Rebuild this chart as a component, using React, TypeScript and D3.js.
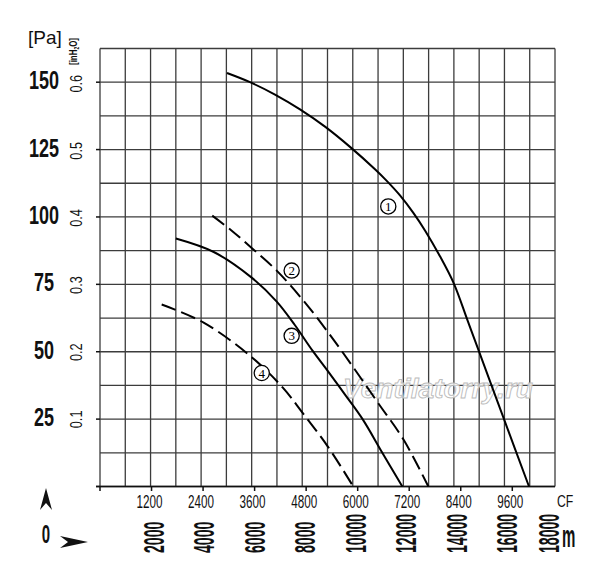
import React from "react";
import * as d3 from "d3";

// ---- data ----
const m3hTicks = [2000, 4000, 6000, 8000, 10000, 12000, 14000, 16000, 18000];
const cfmTicks = [1200, 2400, 3600, 4800, 6000, 7200, 8400, 9600];
const paTicks = [25, 50, 75, 100, 125, 150];
const inH2OTicks = [0.1, 0.2, 0.3, 0.4, 0.5, 0.6];
const PA_PER_INH2O = 249.09;
const M3H_PER_CFM = 1.699;

// [flow m3/h, pressure Pa]
const curve1: [number, number][] = [
  [5024, 153.4], [5934, 150], [6923, 145.4], [7912, 139.9], [8901, 133.5],
  [9890, 126], [10879, 117.7], [11354, 113.3], [11868, 108], [12382, 101.7],
  [12857, 95], [13450, 85.4], [14004, 75.2], [14518, 62.2], [14993, 50.1],
  [15982, 25], [16971, 0],
];
const curve2: [number, number][] = [
  [4440, 100.5], [5200, 95], [6000, 88.5], [7000, 80], [8000, 69.5],
  [9000, 57.5], [10000, 44.5], [11000, 31], [12000, 17.5], [12990, 0],
];
const curve3: [number, number][] = [
  [3000, 92], [4500, 87], [6000, 77.5], [7000, 68.5], [7700, 60], [8400, 50.5],
  [9000, 43], [9700, 34], [10400, 24.8], [11150, 12.8], [11960, 0],
];
const curve4: [number, number][] = [
  [2440, 67.5], [4100, 60.8], [6000, 48], [7250, 36.5], [8000, 27.5],
  [9000, 15], [10020, 0],
];
const curves = [
  { id: "1", pts: curve1, dashed: false },
  { id: "2", pts: curve2, dashed: true },
  { id: "3", pts: curve3, dashed: false },
  { id: "4", pts: curve4, dashed: true },
];
const labelIds = ["1", "2", "3", "4"];
const labelFlow = [11404, 7582, 7582, 6400];
const labelPa = [103.9, 80.1, 55.9, 42.1];

const FONT = "'Liberation Sans', Arial, sans-serif";

export default function App() {
  const W = 600, H = 583;
  const x = d3.scaleLinear().domain([0, 18000]).range([100, 555]);
  const y = d3.scaleLinear().domain([0, 162.5]).range([486.5, 48.5]);
  const line = d3
    .line<[number, number]>()
    .x((d) => x(d[0]))
    .y((d) => y(d[1]))
    .curve(d3.curveCatmullRom.alpha(0.5));

  const vGrid = d3.range(0, 18001, 1000);
  const hGrid = d3.range(0, 162.6, 12.5);
  const gridColor = "#3c3c3c";

  return (
    <svg
      width={W}
      height={H}
      viewBox={`0 0 ${W} ${H}`}
      style={{ position: "absolute", left: 0, top: 0, background: "#fff" }}
      fontFamily={FONT}
    >
      <rect x={0} y={0} width={W} height={H} fill="#fff" />
      {/* grid */}
      <g stroke={gridColor} strokeWidth={1.3}>
        {vGrid.map((v) => (
          <line key={"v" + v} x1={x(v)} x2={x(v)} y1={y(162.5)} y2={y(0)} />
        ))}
        {hGrid.map((v) => (
          <line key={"h" + v} x1={x(0)} x2={x(18000)} y1={y(v)} y2={y(v)} />
        ))}
      </g>
      {/* ticks */}
      <g stroke="#111" strokeWidth={1.5}>
        {[0, ...paTicks].map((p) => (
          <line key={"lt" + p} x1={96} x2={x(0)} y1={y(p)} y2={y(p)} />
        ))}
        {[0, ...cfmTicks].map((c) => (
          <line key={"bt" + c} x1={x(c * M3H_PER_CFM)} x2={x(c * M3H_PER_CFM)} y1={y(0)} y2={y(0) + 4.5} />
        ))}
        <line x1={96} x2={x(18000)} y1={y(0)} y2={y(0)} />
      </g>

      {/* watermark */}
      <text
        x={343}
        y={398}
        fontSize={27}
        fontWeight="bold"
        fontStyle="italic"
        textLength={190}
        lengthAdjust="spacingAndGlyphs"
        fill="#ffffff"
        fillOpacity={0.75}
        stroke="#bcbcbc"
        strokeWidth={0.9}
      >
        Ventilatorry.ru
      </text>

      {/* curves */}
      {curves.map((c) => (
        <path
          key={c.id}
          d={line(c.pts) || ""}
          fill="none"
          stroke="#000"
          strokeWidth={2}
          strokeDasharray={c.dashed ? "15 6" : undefined}
        />
      ))}

      {/* curve labels */}
      {labelIds.map((id, i) => (
        <g key={"cl" + id} transform={`translate(${x(labelFlow[i])},${y(labelPa[i])})`}>
          <circle r={7.6} fill="#fff" stroke="#000" strokeWidth={1.3} />
          <text
            y={4.6}
            textAnchor="middle"
            fontSize={13}
            fontFamily="'Liberation Serif', 'DejaVu Serif', serif"
            fill="#000"
          >
            {id}
          </text>
        </g>
      ))}

      {/* Pa labels */}
      {paTicks.map((p) => (
        <text
          key={"pa" + p}
          transform={`translate(44,${y(p) + 7}) scale(0.72,1)`}
          textAnchor="middle"
          fontSize={25}
          fontWeight="bold"
          fill="#111"
        >
          {p}
        </text>
      ))}
      {/* inH2O labels */}
      {inH2OTicks.map((v) => (
        <text
          key={"in" + v}
          transform={`translate(82,${y(v * PA_PER_INH2O)}) rotate(-90) scale(0.77,1)`}
          textAnchor="middle"
          fontSize={16.5}
          fill="#111"
        >
          {v.toFixed(1)}
        </text>
      ))}
      <text x={28} y={44} fontSize={19} fill="#111">
        [Pa]
      </text>
      <text
        transform={`translate(77,65) rotate(-90)`}
        fontSize={11}
        fontWeight="bold"
        textLength={27}
        lengthAdjust="spacingAndGlyphs"
        fill="#111"
      >
        [inH<tspan fontSize={7} dy={2}>2</tspan>
        <tspan dy={-2}>O]</tspan>
      </text>

      {/* CFM labels */}
      {cfmTicks.map((c) => (
        <text
          key={"cfm" + c}
          transform={`translate(${x(c * M3H_PER_CFM) - 2},508) scale(0.65,1)`}
          textAnchor="middle"
          fontSize={18}
          fill="#111"
        >
          {c}
        </text>
      ))}
      <text transform="translate(557,507) scale(0.72,1)" fontSize={17} fill="#111">
        CF
      </text>

      {/* m3/h labels */}
      {m3hTicks.map((m) => (
        <text
          key={"m" + m}
          transform={`translate(${Math.min(x(m) + 2, 548) + 11},553) rotate(-90) scale(0.47,1)`}
          textAnchor="start"
          fontSize={30}
          fontWeight="bold"
          fill="#111"
        >
          {m}
        </text>
      ))}
      <text transform="translate(562,546.5) scale(0.47,1)" fontSize={32} fontWeight="bold" fill="#111">
        m
      </text>

      {/* origin marks */}
      <text transform="translate(46,543) scale(0.6,1)" textAnchor="middle" fontSize={25} fontWeight="bold" fill="#111">
        0
      </text>
      <path d="M46,488 L52,510 L46,503 L40,510 Z" fill="#111" />
      <path d="M60,536 L88,542 L60,548 L68,542 Z" fill="#111" />
    </svg>
  );
}
